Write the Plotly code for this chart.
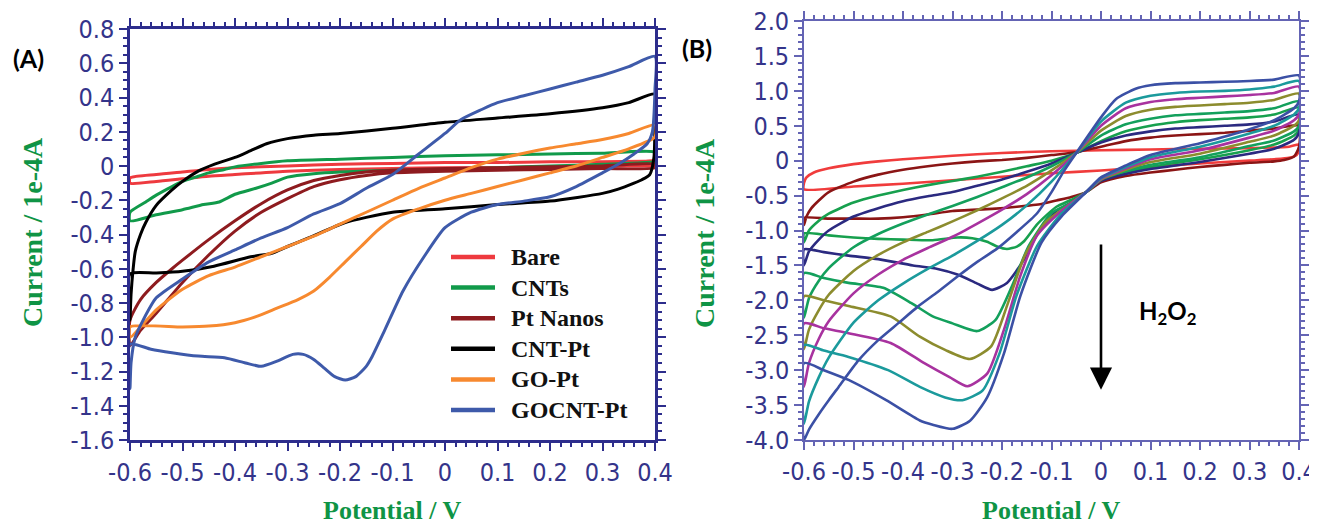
import plotly.graph_objects as go

# ---------------- Panel A data (Potential / V, Current / 1e-4 A) ----------------
bare_x = [-0.6, -0.55, -0.5, -0.45, -0.4, -0.3, -0.2, -0.1, 0.0, 0.1, 0.2, 0.3, 0.38, 0.4,
          0.4, 0.38, 0.3, 0.2, 0.1, 0.0, -0.1, -0.2, -0.3, -0.4, -0.45, -0.5, -0.55, -0.6, -0.6]
bare_y = [-0.07, -0.05, -0.035, -0.02, -0.01, 0.0, 0.01, 0.015, 0.02, 0.02, 0.025, 0.025, 0.028, 0.03,
          0.005, 0.0, 0.0, -0.005, -0.01, -0.01, -0.015, -0.02, -0.03, -0.05, -0.06, -0.075, -0.09, -0.1, -0.07]

cnt_x = [-0.6, -0.57, -0.55, -0.52, -0.5, -0.47, -0.45, -0.42, -0.4, -0.35, -0.3, -0.2, -0.1, 0.0, 0.1, 0.2, 0.3, 0.4,
         0.4, 0.38, 0.3, 0.2, 0.1, 0.0, -0.1, -0.2, -0.25, -0.3, -0.33, -0.36, -0.4, -0.43, -0.46, -0.5, -0.55, -0.6, -0.6]
cnt_y = [-0.27, -0.21, -0.17, -0.12, -0.09, -0.06, -0.04, -0.02, -0.005, 0.015, 0.03, 0.04, 0.05, 0.06, 0.065, 0.07, 0.075, 0.08,
         0.03, 0.02, 0.01, 0.0, -0.01, -0.02, -0.025, -0.035, -0.045, -0.065, -0.1, -0.13, -0.165, -0.21, -0.225, -0.255, -0.285, -0.32, -0.27]

ptn_x = [-0.6, -0.58, -0.55, -0.52, -0.5, -0.45, -0.4, -0.35, -0.3, -0.25, -0.2, -0.15, -0.1, 0.0, 0.1, 0.2, 0.3, 0.4,
         0.4, 0.3, 0.2, 0.1, 0.0, -0.1, -0.15, -0.2, -0.25, -0.3, -0.35, -0.4, -0.45, -0.5, -0.55, -0.58, -0.6, -0.6]
ptn_y = [-0.9, -0.78, -0.68, -0.6, -0.55, -0.43, -0.32, -0.22, -0.14, -0.085, -0.055, -0.035, -0.025, -0.015, -0.01, -0.005, 0.0, 0.01,
         -0.01, -0.015, -0.02, -0.025, -0.03, -0.04, -0.055, -0.08, -0.12, -0.19, -0.27, -0.38, -0.52, -0.68, -0.86, -0.96, -1.05, -0.9]

cntpt_x = [-0.6, -0.598, -0.594, -0.59, -0.58, -0.57, -0.55, -0.52, -0.5, -0.47, -0.44, -0.4, -0.37, -0.34, -0.3, -0.25, -0.2,
           -0.1, 0.0, 0.1, 0.2, 0.3, 0.35, 0.4,
           0.4, 0.398, 0.39, 0.375, 0.36, 0.33, 0.3, 0.2, 0.1, 0.0, -0.1, -0.15, -0.19, -0.26, -0.3, -0.33, -0.37, -0.44, -0.5,
           -0.55, -0.6, -0.6]
cntpt_y = [-0.9, -0.75, -0.6, -0.5, -0.4, -0.33, -0.23, -0.14, -0.09, -0.03, 0.01, 0.05, 0.09, 0.13, 0.16, 0.18, 0.19,
           0.22, 0.255, 0.28, 0.305, 0.34, 0.37, 0.42,
           0.3, 0.05, -0.05, -0.08, -0.1, -0.135, -0.16, -0.205, -0.225, -0.25, -0.27, -0.3, -0.33, -0.42, -0.47, -0.51, -0.53,
           -0.585, -0.615, -0.625, -0.63, -0.9]

gopt_x = [-0.6, -0.55, -0.5, -0.45, -0.4, -0.35, -0.3, -0.25, -0.2, -0.15, -0.1, -0.05, 0.0, 0.05, 0.1, 0.15, 0.2, 0.25,
          0.3, 0.35, 0.4,
          0.4, 0.35, 0.3, 0.25, 0.2, 0.15, 0.1, 0.05, 0.0, -0.05, -0.1, -0.13, -0.16, -0.19, -0.22, -0.25, -0.28, -0.32,
          -0.36, -0.4, -0.45, -0.5, -0.6, -0.6]
gopt_y = [-1.0, -0.84, -0.72, -0.64, -0.59, -0.53, -0.47, -0.41, -0.34, -0.27, -0.2, -0.13, -0.07, -0.01, 0.04, 0.075, 0.105,
          0.13, 0.155, 0.19, 0.24,
          0.17, 0.1, 0.05, 0.0, -0.04, -0.08, -0.12, -0.16, -0.2, -0.25, -0.31, -0.38, -0.47, -0.56, -0.65, -0.73, -0.78, -0.83,
          -0.88, -0.915, -0.935, -0.94, -0.94, -1.0]

gocnt_x = [-0.6, -0.598, -0.59, -0.575, -0.55, -0.5, -0.45, -0.4, -0.35, -0.3, -0.25, -0.2, -0.15, -0.1, -0.05, 0.0, 0.03,
           0.07, 0.1, 0.15, 0.2, 0.25, 0.3, 0.35, 0.4,
           0.4, 0.395, 0.385, 0.36, 0.33, 0.3, 0.25, 0.2, 0.15, 0.1, 0.05, 0.0, -0.04, -0.08, -0.115, -0.14, -0.15, -0.17,
           -0.19, -0.21, -0.23, -0.25, -0.27, -0.29, -0.32, -0.35, -0.38, -0.42, -0.47, -0.52, -0.56, -0.6, -0.6]
gocnt_y = [-1.3, -1.15, -1.0, -0.9, -0.77, -0.66, -0.56, -0.49, -0.42, -0.36, -0.28, -0.22, -0.13, -0.05, 0.07, 0.19, 0.27,
           0.33, 0.37, 0.41, 0.45, 0.49, 0.53, 0.58, 0.64,
           0.45, 0.2, 0.13, 0.07, 0.01, -0.04, -0.12, -0.18, -0.205, -0.225, -0.27, -0.36, -0.53, -0.73, -0.96, -1.12, -1.17,
           -1.23, -1.25, -1.23, -1.18, -1.13, -1.1, -1.1, -1.14, -1.17, -1.15, -1.12, -1.11, -1.09, -1.07, -1.04, -1.3]

a_names = ["Bare", "CNTs", "Pt Nanos", "CNT-Pt", "GO-Pt", "GOCNT-Pt"]
a_colors = ["#ee3a3f", "#119a4a", "#8e1b1f", "#000000", "#f7892f", "#3e5aaa"]

# ---------------- Panel B data (increasing H2O2) ----------------
up_x = [-0.6, -0.59, -0.57, -0.55, -0.5, -0.45, -0.4, -0.35, -0.3, -0.25, -0.2, -0.15, -0.1, -0.05, 0.0, 0.05, 0.1,
        0.15, 0.2, 0.25, 0.3, 0.35, 0.4]

b1_x = [-0.6, -0.595, -0.58, -0.55, -0.5, -0.45, -0.4, -0.3, -0.2, -0.1, 0.0, 0.1, 0.2, 0.3, 0.38, 0.4,
        0.4, 0.395, 0.38, 0.35, 0.3, 0.2, 0.1, 0.0, -0.1, -0.2, -0.3, -0.4, -0.5, -0.6, -0.6]
b1_y = [-0.32, -0.24, -0.17, -0.11, -0.05, -0.01, 0.02, 0.07, 0.11, 0.135, 0.15, 0.16, 0.17, 0.18, 0.2, 0.23,
        0.16, 0.08, 0.04, 0.02, 0.0, -0.04, -0.09, -0.14, -0.18, -0.23, -0.28, -0.33, -0.37, -0.41, -0.32]

b2_x = [-0.6, -0.595, -0.585, -0.57, -0.55, -0.5, -0.45, -0.4, -0.35, -0.3, -0.25, -0.2, -0.15, -0.1, -0.05, 0.0, 0.05,
        0.1, 0.15, 0.2, 0.25, 0.3, 0.35, 0.4,
        0.4, 0.39, 0.37, 0.35, 0.3, 0.25, 0.2, 0.15, 0.1, 0.05, 0.0, -0.03, -0.06, -0.09, -0.12, -0.17, -0.22, -0.3,
        -0.35, -0.4, -0.45, -0.5, -0.55, -0.6, -0.6]
b2_y = [-0.92, -0.8, -0.68, -0.57, -0.45, -0.3, -0.2, -0.13, -0.08, -0.04, -0.01, 0.01, 0.04, 0.08, 0.12, 0.2, 0.28,
        0.33, 0.36, 0.38, 0.4, 0.43, 0.46, 0.5,
        0.2, 0.06, 0.01, -0.01, -0.03, -0.06, -0.09, -0.13, -0.17, -0.22, -0.31, -0.45, -0.52, -0.57, -0.62, -0.66, -0.69,
        -0.72, -0.77, -0.81, -0.83, -0.83, -0.83, -0.82, -0.92]

b3_up_y = [-1.17, -1.0, -0.86, -0.76, -0.6, -0.5, -0.42, -0.35, -0.29, -0.23, -0.16, -0.08, 0.0, 0.11, 0.28, 0.42, 0.5,
           0.55, 0.58, 0.6, 0.62, 0.66, 0.76]
b3_lo_x = [0.4, 0.39, 0.35, 0.3, 0.2, 0.1, 0.05, 0.0, -0.03, -0.06, -0.09, -0.11, -0.13, -0.155, -0.17, -0.19, -0.21,
           -0.23, -0.26, -0.29, -0.34, -0.4, -0.45, -0.5, -0.55, -0.6, -0.6]
b3_lo_y = [0.45, 0.36, 0.23, 0.15, 0.02, -0.09, -0.17, -0.28, -0.45, -0.56, -0.66, -0.78, -0.92, -1.15, -1.23, -1.265,
           -1.23, -1.16, -1.11, -1.1, -1.14, -1.13, -1.12, -1.1, -1.07, -1.04, -1.17]

b4_up_y = [-1.5, -1.3, -1.13, -1.0, -0.8, -0.68, -0.58, -0.51, -0.45, -0.36, -0.27, -0.16, -0.04, 0.11, 0.26, 0.36, 0.42,
           0.46, 0.48, 0.5, 0.52, 0.56, 0.66]
b4_lo_x = [0.4, 0.39, 0.35, 0.3, 0.2, 0.1, 0.05, 0.0, -0.03, -0.06, -0.09, -0.13, -0.155, -0.19, -0.22, -0.25, -0.29,
           -0.33, -0.38, -0.45, -0.51, -0.56, -0.6, -0.6]
b4_lo_y = [0.4, 0.3, 0.17, 0.1, -0.02, -0.12, -0.19, -0.29, -0.45, -0.6, -0.72, -1.07, -1.41, -1.75, -1.85, -1.76, -1.63,
           -1.55, -1.5, -1.41, -1.36, -1.31, -1.27, -1.5]

b5_up_y = [-2.25, -1.97, -1.72, -1.54, -1.24, -1.05, -0.9, -0.77, -0.65, -0.52, -0.38, -0.24, -0.08, 0.11, 0.36, 0.52, 0.6,
           0.65, 0.67, 0.69, 0.71, 0.75, 0.85]
b5_lo_x = [0.4, 0.39, 0.35, 0.3, 0.2, 0.1, 0.05, 0.0, -0.03, -0.065, -0.1, -0.146, -0.18, -0.213, -0.25, -0.3, -0.34,
           -0.383, -0.44, -0.51, -0.56, -0.6, -0.6]
b5_lo_y = [0.5, 0.42, 0.29, 0.21, 0.05, -0.06, -0.15, -0.27, -0.45, -0.62, -0.75, -1.22, -1.8, -2.28, -2.44, -2.33, -2.23,
           -2.04, -1.82, -1.75, -1.68, -1.61, -2.25]

b6_up_y = [-2.7, -2.42, -2.14, -1.92, -1.58, -1.35, -1.17, -1.02, -0.87, -0.71, -0.54, -0.36, -0.14, 0.11, 0.43, 0.64, 0.73,
           0.77, 0.79, 0.81, 0.83, 0.87, 0.96]
b6_lo_x = [0.4, 0.39, 0.35, 0.3, 0.2, 0.1, 0.05, 0.0, -0.03, -0.07, -0.112, -0.154, -0.188, -0.222, -0.265, -0.315,
           -0.366, -0.425, -0.51, -0.56, -0.6, -0.6]
b6_lo_y = [0.58, 0.5, 0.36, 0.27, 0.1, -0.02, -0.13, -0.27, -0.45, -0.66, -0.88, -1.36, -2.04, -2.66, -2.84, -2.71, -2.52,
           -2.23, -2.08, -2.0, -1.94, -2.7]

b7_up_y = [-3.24, -2.9, -2.55, -2.3, -1.9, -1.63, -1.42, -1.25, -1.09, -0.9, -0.7, -0.48, -0.21, 0.11, 0.5, 0.75, 0.84,
           0.88, 0.9, 0.92, 0.94, 0.97, 1.06]
b7_lo_x = [0.4, 0.39, 0.35, 0.3, 0.2, 0.1, 0.05, 0.0, -0.03, -0.08, -0.129, -0.163, -0.196, -0.23, -0.27, -0.306,
           -0.357, -0.425, -0.51, -0.56, -0.6, -0.6]
b7_lo_y = [0.66, 0.58, 0.43, 0.33, 0.15, 0.02, -0.11, -0.26, -0.45, -0.72, -1.07, -1.65, -2.42, -3.05, -3.23, -3.1, -2.9,
           -2.61, -2.47, -2.4, -2.33, -3.24]

b8_up_y = [-3.77, -3.45, -3.1, -2.82, -2.32, -2.0, -1.76, -1.55, -1.36, -1.15, -0.92, -0.64, -0.3, 0.11, 0.56, 0.83, 0.93,
           0.97, 0.99, 1.0, 1.02, 1.06, 1.14]
b8_lo_x = [0.4, 0.39, 0.35, 0.3, 0.2, 0.1, 0.05, 0.0, -0.03, -0.08, -0.129, -0.171, -0.205, -0.239, -0.28, -0.315,
           -0.366, -0.43, -0.51, -0.56, -0.6, -0.6]
b8_lo_y = [0.75, 0.66, 0.5, 0.39, 0.2, 0.05, -0.09, -0.25, -0.45, -0.76, -1.22, -1.94, -2.76, -3.29, -3.43, -3.39, -3.24,
           -3.0, -2.81, -2.72, -2.64, -3.77]

b9_up_x = [-0.6, -0.59, -0.57, -0.55, -0.53, -0.49, -0.45, -0.41, -0.37, -0.33, -0.29, -0.25, -0.21, -0.17, -0.13, -0.1,
           -0.075, -0.05, 0.0, 0.03, 0.07, 0.1, 0.15, 0.2, 0.25, 0.3, 0.35, 0.4]
b9_up_y = [-4.0, -3.85, -3.63, -3.43, -3.24, -2.86, -2.57, -2.33, -2.09, -1.88, -1.66, -1.45, -1.26, -1.02, -0.76, -0.45,
           -0.15, 0.11, 0.62, 0.88, 1.03, 1.08, 1.11, 1.12, 1.13, 1.14, 1.16, 1.22]
b9_lo_x = [0.4, 0.39, 0.35, 0.3, 0.2, 0.1, 0.05, 0.0, -0.03, -0.08, -0.12, -0.163, -0.196, -0.23, -0.264, -0.3, -0.34,
           -0.366, -0.434, -0.51, -0.56, -0.6, -0.6]
b9_lo_y = [0.85, 0.75, 0.58, 0.45, 0.25, 0.08, -0.07, -0.24, -0.45, -0.8, -1.17, -1.94, -2.76, -3.39, -3.72, -3.84, -3.78,
           -3.72, -3.43, -3.14, -3.0, -2.9, -4.0]

b_colors = ["#f03c3c", "#8b1515", "#17a04e", "#2b2a80", "#13a05c", "#8c8c2e", "#a8329f", "#1b9a9c", "#3b50a5"]

# tick labels
a_xtick_vals = [-0.6, -0.5, -0.4, -0.3, -0.2, -0.1, 0.0, 0.1, 0.2, 0.3, 0.4]
a_xtick_text = ["-0.6", "-0.5", "-0.4", "-0.3", "-0.2", "-0.1", "0", "0.1", "0.2", "0.3", "0.4"]
a_ytick_vals = [0.8, 0.6, 0.4, 0.2, 0.0, -0.2, -0.4, -0.6, -0.8, -1.0, -1.2, -1.4, -1.6]
a_ytick_text = ["0.8", "0.6", "0.4", "0.2", "0", "-0.2", "-0.4", "-0.6", "-0.8", "-1.0", "-1.2", "-1.4", "-1.6"]
b_ytick_vals = [2.0, 1.5, 1.0, 0.5, 0.0, -0.5, -1.0, -1.5, -2.0, -2.5, -3.0, -3.5, -4.0]
b_ytick_text = ["2.0", "1.5", "1.0", "0.5", "0", "-0.5", "-1.0", "-1.5", "-2.0", "-2.5", "-3.0", "-3.5", "-4.0"]

# ---------------- figure ----------------
fig = go.Figure()

a_series = [(bare_x, bare_y), (cnt_x, cnt_y), (ptn_x, ptn_y), (cntpt_x, cntpt_y), (gopt_x, gopt_y), (gocnt_x, gocnt_y)]
for (xs, ys), name, col in zip(a_series, a_names, a_colors):
    fig.add_trace(go.Scatter(x=xs, y=ys, mode="lines", name=name, showlegend=False,
                             line=dict(color=col, width=3, shape="spline", smoothing=0.6),
                             xaxis="x", yaxis="y"))

b_series = [
    (b1_x, b1_y),
    (b2_x, b2_y),
    (up_x + b3_lo_x, b3_up_y + b3_lo_y),
    (up_x + b4_lo_x, b4_up_y + b4_lo_y),
    (up_x + b5_lo_x, b5_up_y + b5_lo_y),
    (up_x + b6_lo_x, b6_up_y + b6_lo_y),
    (up_x + b7_lo_x, b7_up_y + b7_lo_y),
    (up_x + b8_lo_x, b8_up_y + b8_lo_y),
    (b9_up_x + b9_lo_x, b9_up_y + b9_lo_y),
]
for (xs, ys), col in zip(b_series, b_colors):
    fig.add_trace(go.Scatter(x=xs, y=ys, mode="lines", showlegend=False,
                             line=dict(color=col, width=2.6, shape="spline", smoothing=0.6),
                             xaxis="x2", yaxis="y2"))

# the page places the figure 8 px from the top-left corner of the window
OFF = 8
W, H = 1317 - OFF, 527 - OFF


def px(x):
    return (x - OFF) / W


def py(y):
    return (H - (y - OFF)) / H


tick_font = dict(family="DejaVu Sans Condensed, Liberation Sans Narrow, Liberation Sans, sans-serif",
                 size=25, color="#34348a")
axA = "#2d2d8c"
axB = "#6464b4"


def xax(domain, anchor, color, lw):
    return dict(domain=domain, anchor=anchor, range=[-0.6, 0.4], tickmode="array",
                tickvals=a_xtick_vals, ticktext=a_xtick_text, tickfont=tick_font, tickangle=0,
                ticklabeloverflow="allow",
                ticks="outside", ticklen=8, tickwidth=2, tickcolor=color, automargin=False,
                showline=True, linecolor=color, linewidth=lw, mirror="ticks",
                showgrid=False, zeroline=False,
                minor=dict(tick0=0, dtick=0.02, ticks="outside", ticklen=4, tickwidth=1.5, tickcolor=color))


def yax(domain, anchor, rng, vals, text, minor_dtick, color, lw):
    return dict(domain=domain, anchor=anchor, range=rng, tickmode="array",
                tickvals=vals, ticktext=text, tickfont=tick_font, tickangle=0,
                ticklabeloverflow="allow",
                ticks="outside", ticklen=8, tickwidth=2, tickcolor=color, automargin=False,
                showline=True, linecolor=color, linewidth=lw, mirror="ticks",
                showgrid=False, zeroline=False,
                minor=dict(tick0=0, dtick=minor_dtick, ticks="outside", ticklen=4, tickwidth=1.5, tickcolor=color))


ytitle_font = dict(family="Liberation Serif, Times New Roman, serif", size=28, color="#0f9445", weight="bold")
xtitle_font = dict(family="Liberation Serif, Times New Roman, serif", size=26, color="#0f9445", weight="bold")
label_font = dict(family="Lato, Open Sans, sans-serif", size=25, color="#000000", weight="bold")
legend_font = dict(family="Liberation Serif, Times New Roman, serif", size=24, color="#111111", weight="bold")

fig.update_layout(
    width=W, height=H, autosize=False,
    margin=dict(l=0, r=0, t=0, b=0, pad=0),
    paper_bgcolor="white", plot_bgcolor="white",
    xaxis=xax([px(130), px(655)], "y", axA, 2.5),
    yaxis=yax([py(440), py(29)], "x", [-1.6, 0.8], a_ytick_vals, a_ytick_text, 0.05, axA, 2.5),
    xaxis2=xax([px(804), px(1299)], "y2", axB, 1.6),
    yaxis2=yax([py(440), py(21)], "x2", [-4.0, 2.0], b_ytick_vals, b_ytick_text, 0.1, axB, 1.6),
    showlegend=False,
)

annotations = [
    dict(text="Current / 1e-4A", x=px(32), y=py(232), xref="paper", yref="paper", textangle=-90,
         showarrow=False, font=ytitle_font, xanchor="center", yanchor="middle"),
    dict(text="Current / 1e-4A", x=px(705), y=py(233), xref="paper", yref="paper", textangle=-90,
         showarrow=False, font=ytitle_font, xanchor="center", yanchor="middle"),
    dict(text="Potential / V", x=px(392), y=py(510), xref="paper", yref="paper",
         showarrow=False, font=xtitle_font, xanchor="center", yanchor="middle"),
    dict(text="Potential / V", x=px(1051), y=py(510), xref="paper", yref="paper",
         showarrow=False, font=xtitle_font, xanchor="center", yanchor="middle"),
    dict(text="(A)", x=px(28), y=py(58), xref="paper", yref="paper",
         showarrow=False, font=label_font, xanchor="center", yanchor="middle"),
    dict(text="(B)", x=px(697), y=py(48), xref="paper", yref="paper",
         showarrow=False, font=label_font, xanchor="center", yanchor="middle"),
    dict(text="H<sub>2</sub>O<sub>2</sub>", x=px(1167), y=py(312), xref="paper", yref="paper",
         showarrow=False, font=dict(family="Lato, Open Sans, sans-serif", size=24, color="#000000", weight="bold"),
         xanchor="center", yanchor="middle"),
    dict(text="", x=0.0, y=-3.28, xref="x2", yref="y2", ax=0.0, ay=-1.18, axref="x2", ayref="y2",
         showarrow=True, arrowhead=2, arrowsize=1.7, arrowwidth=2.6, arrowcolor="#000000", standoff=0),
]

# legend of panel A (drawn as key lines + labels)
shapes = []
leg_x0, leg_x1, leg_tx, leg_y0, leg_dy = 451, 495, 509, 257, 30.6
for i, (name, col) in enumerate(zip(a_names, a_colors)):
    yc = leg_y0 + i * leg_dy
    shapes.append(dict(type="line", xref="paper", yref="paper", x0=px(leg_x0), x1=px(leg_x1),
                       y0=py(yc), y1=py(yc), line=dict(color=col, width=4.5)))
    annotations.append(dict(text=name, x=px(leg_tx), y=py(yc), xref="paper", yref="paper",
                            showarrow=False, font=legend_font, xanchor="left", yanchor="middle"))

fig.update_layout(annotations=annotations, shapes=shapes)

fig.write_html("out.html")
